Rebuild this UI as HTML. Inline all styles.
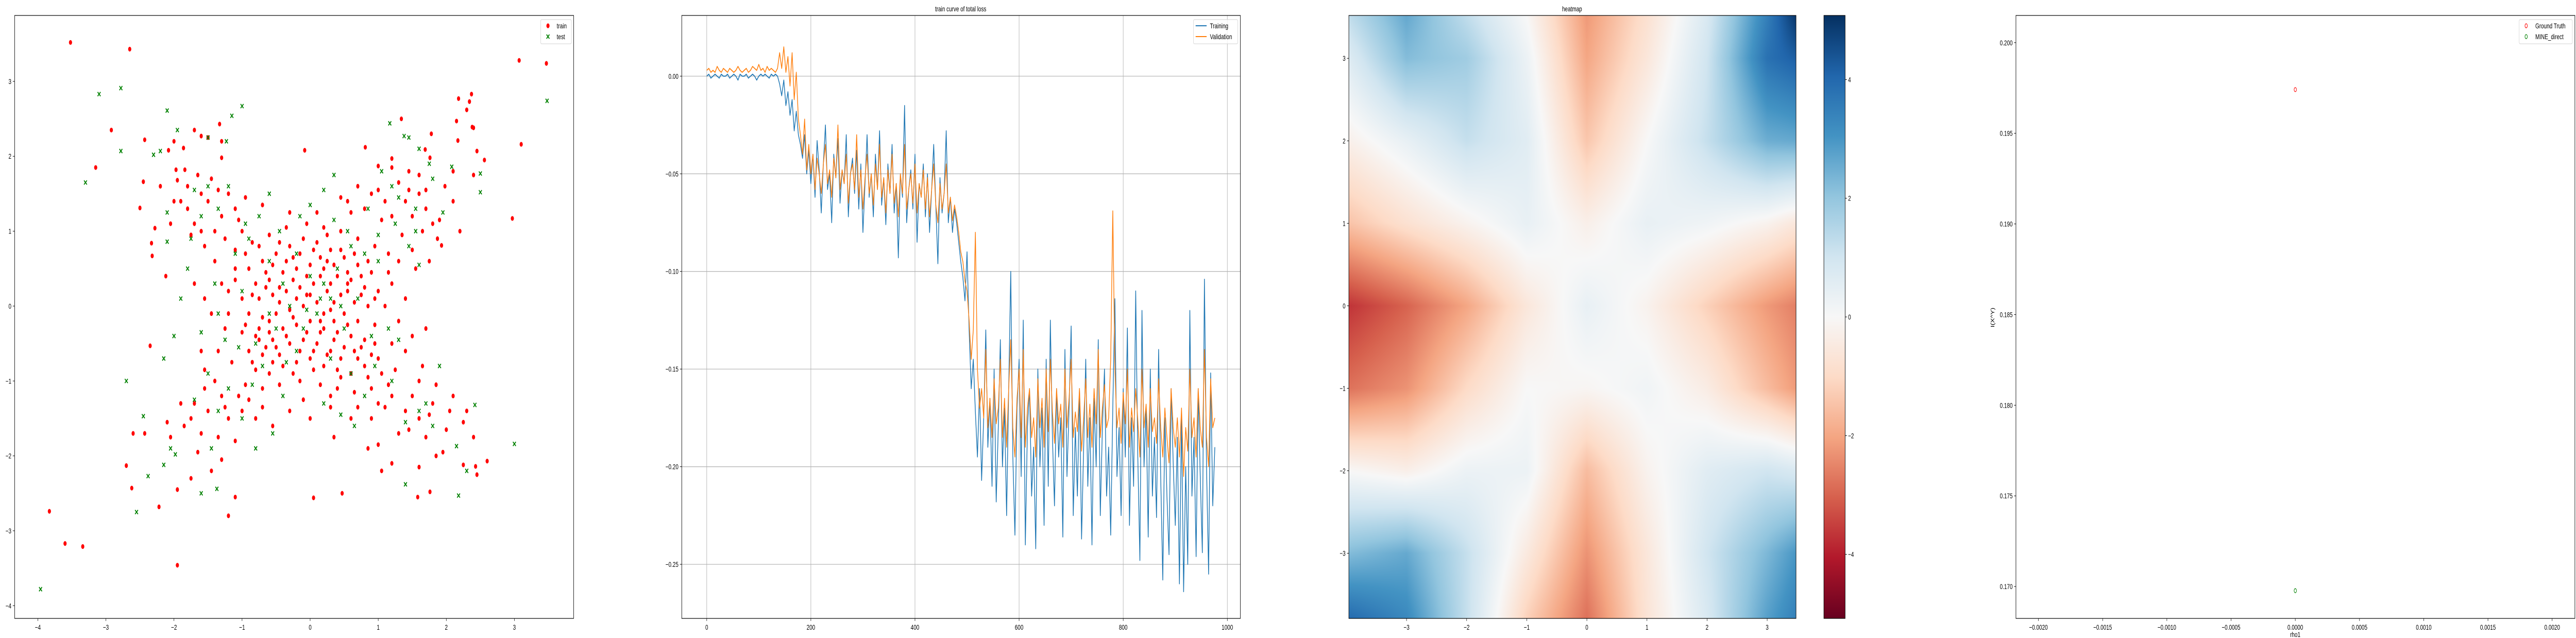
<!DOCTYPE html>
<html><head><meta charset="utf-8"><title>charts</title>
<style>
html,body{margin:0;padding:0;background:#fff;width:100%;height:100%;overflow:hidden;}
#wrap{position:relative;width:100vw;height:100vh;overflow:hidden;}
#fig{position:absolute;left:0;top:0;width:100%;height:100%;}
#heat{position:absolute;left:52.3620%;top:2.4233%;width:17.3591%;height:94.5073%;}
text{font-family:"Liberation Sans",sans-serif;font-size:14px;fill:#000;}
</style></head>
<body>
<div id="wrap">
<canvas id="heat" width="1220" height="1170"></canvas>
<svg id="fig" viewBox="0 0 7028 1238" preserveAspectRatio="none" xmlns="http://www.w3.org/2000/svg">
<defs>
<linearGradient id="rdbu" x1="0" y1="1" x2="0" y2="0">
<stop offset="0" stop-color="#67001f"/><stop offset="0.1" stop-color="#b2182b"/><stop offset="0.2" stop-color="#d6604d"/><stop offset="0.3" stop-color="#f4a582"/><stop offset="0.4" stop-color="#fddbc7"/><stop offset="0.5" stop-color="#f7f7f7"/><stop offset="0.6" stop-color="#d1e5f0"/><stop offset="0.7" stop-color="#92c5de"/><stop offset="0.8" stop-color="#4393c3"/><stop offset="0.9" stop-color="#2166ac"/><stop offset="1" stop-color="#053061"/>
</linearGradient>
</defs>
</svg>
</div>
<script>
// ---------- DATA ----------
const trainPts = [[-3.52,3.52],[-2.65,3.43],[3.07,3.28],[3.47,3.24],[-2.92,2.35],[-3.15,1.85],[3.1,2.16],[2.37,2.83],[2.18,2.77],[2.34,2.73],[2.3,2.62],[2.15,2.47],[2.38,2.39],[2.4,2.38],[2.17,2.21],[2.4,1.75],[2.45,2.07],[2.56,1.95],[2.97,1.17],[2.2,1.0],[1.93,0.81],[-3.83,-2.74],[-3.6,-3.17],[-3.34,-3.21],[-1.95,-3.46],[-2.22,-2.68],[-2.62,-2.43],[-2.7,-2.13],[-1.2,-2.8],[-1.1,-2.55],[0.05,-2.56],[0.47,-2.5],[1.58,-2.55],[1.76,-2.48],[2.6,-2.07],[2.45,-2.25],[2.43,-2.14],[2.25,-2.12],[-2.6,-1.7],[-2.43,-1.7],[-2.35,-0.53],[-2.5,1.31],[-2.43,2.22],[-2.45,1.66],[-1.33,2.43],[-1.7,2.35],[-2.08,2.08],[-2.0,2.2],[-2.28,1.04],[-2.33,0.84],[-2.32,0.67],[-2.12,0.4],[-2.05,1.1],[-1.6,2.27],[-1.5,2.25],[-1.3,2.2],[-1.3,1.98],[-1.97,1.82],[-1.95,1.68],[-1.84,1.82],[-1.86,2.11],[-0.08,2.08],[0.81,2.12],[1.34,2.5],[1.78,2.3],[1.2,1.97],[1.0,1.87],[1.98,1.6],[1.76,1.98],[1.69,2.09],[2.1,1.8],[1.87,0.9],
[-0.9,0.5],[-0.7,0.6],[-0.5,0.7],[-0.3,0.8],[-0.1,0.9],[0.1,0.85],[0.3,0.75],[0.5,0.65],[0.7,0.55],[0.9,0.45],
[-0.8,0.3],[-0.6,0.35],[-0.4,0.45],[-0.2,0.5],[0,0.55],[0.2,0.5],[0.4,0.4],[0.6,0.35],[0.8,0.25],[1.0,0.2],
[-1.0,0.1],[-0.75,0.1],[-0.55,0.15],[-0.35,0.2],[-0.15,0.25],[0.05,0.3],[0.25,0.2],[0.45,0.15],[0.65,0.05],[0.85,0.0],
[-0.9,-0.1],[-0.7,-0.15],[-0.5,-0.1],[-0.3,-0.05],[-0.1,0.0],[0.1,0.05],[0.3,-0.05],[0.5,-0.1],[0.7,-0.2],[0.95,-0.25],
[-1.0,-0.35],[-0.8,-0.4],[-0.6,-0.35],[-0.4,-0.3],[-0.2,-0.25],[0.0,-0.2],[0.2,-0.3],[0.4,-0.35],[0.6,-0.4],[0.8,-0.45],
[-0.9,-0.6],[-0.7,-0.65],[-0.5,-0.55],[-0.3,-0.5],[-0.1,-0.45],[0.1,-0.5],[0.3,-0.6],[0.5,-0.55],[0.7,-0.7],[0.9,-0.65],
[-0.8,-0.85],[-0.6,-0.9],[-0.4,-0.8],[-0.2,-0.75],[0.0,-0.7],[0.2,-0.8],[0.4,-0.85],[0.6,-0.9],[0.85,-0.95],[1.05,-0.9],
[-1.1,0.75],[-0.85,0.85],[-0.6,0.95],[-0.35,1.05],[-0.05,1.1],[0.2,1.05],[0.45,1.0],[0.7,0.9],[0.95,0.8],[1.15,0.7],
[-1.15,-0.75],[-0.95,-1.05],[-0.7,-1.1],[-0.45,-1.05],[-0.15,-1.0],[0.15,-1.05],[0.4,-1.1],[0.65,-1.15],[0.9,-1.1],[1.15,-1.05],
[-0.65,0.45],[-0.45,0.25],[-0.25,0.65],[0.15,0.65],[0.35,0.55],[0.55,0.45],[-0.05,0.4],[0.3,0.3],[-0.2,0.1],[0.0,0.15],[0.2,-0.1],[0.15,-0.35],[-0.35,-0.4],[-0.55,-0.75],[0.05,-0.6],[0.35,-0.2],[0.55,0.2],[-0.6,-0.2],[0.75,0.4],[-0.75,-0.45],[0.25,0.95],[-0.25,-0.9],[0.45,-0.7],[-0.45,0.85],
[-1.3,1.2],[-1.5,1.4],[-1.4,1.0],[-1.6,1.5],[-1.2,1.5],[-1.7,1.1],[-1.45,1.7],[-1.8,1.3],[-1.25,0.9],[-1.55,0.8],[-1.1,1.3],[-1.35,1.55],[-1.0,1.0],[-0.95,1.45],[-1.65,1.75],[-1.4,0.6],[-1.7,0.3],[-1.3,0.3],[-1.55,0.1],[-1.2,0.2],[-1.1,0.5],[-1.45,-0.1],[-1.25,-0.3],[-1.6,-0.6],[-1.9,1.4],[-2.0,1.4],[-1.75,0.95],
[1.2,1.2],[1.4,1.4],[1.6,1.5],[1.1,1.4],[1.3,1.65],[1.5,1.2],[1.7,1.3],[0.9,1.5],[1.2,1.85],[1.0,1.55],[1.45,1.55],[1.8,1.1],[1.65,1.0],[1.35,0.95],[0.8,1.3],[0.6,1.25],[1.5,0.75],[1.75,0.6],[1.3,0.6],[1.55,0.5],[1.2,0.3],[1.4,0.1],[1.3,-0.2],[1.1,0.0],[0.7,1.6],[0.45,1.45],[1.9,1.15],[1.7,1.55],
[-1.3,-1.2],[-1.5,-1.4],[-1.2,-1.5],[-1.6,-1.7],[-1.4,-1.0],[-1.7,-1.3],[-1.0,-1.4],[-1.35,-1.75],[-1.85,-1.6],[-1.55,-1.1],[-1.1,-1.8],[-1.9,-1.3],[-2.05,-1.75],[-1.65,-1.95],[-1.45,-2.2],[-1.75,-2.3],[-1.95,-2.45],[-1.3,-2.05],[-0.8,-1.5],[-0.55,-1.6],[-0.9,-1.25],[-2.1,-1.55],[-1.35,-0.6],[-1.55,-0.85],
[1.2,-1.2],[1.4,-1.4],[1.6,-1.5],[1.1,-1.35],[1.3,-1.7],[1.5,-1.2],[1.8,-1.3],[0.9,-1.5],[1.7,-1.75],[2.0,-1.65],[1.95,-1.95],[2.25,-1.55],[2.4,-1.75],[1.85,-2.0],[1.6,-2.15],[1.2,-2.1],[1.05,-2.2],[1.0,-1.85],[0.85,-1.9],[2.3,-1.4],[2.1,-1.2],[1.85,-1.05],[1.6,-1.0],[1.4,-0.6],[1.65,-0.8],[1.5,-0.4],[1.7,-0.3],[1.25,-0.85],[0.6,-1.5],[0.3,-1.35],[0.0,-1.5],[-0.3,-1.4],[0.35,-1.75],
[-0.95,0.7],[-0.75,0.8],[-0.55,0.55],[-0.35,0.6],[-0.15,0.7],[0.05,0.75],[0.25,0.6],[0.45,0.75],[0.65,0.7],[0.85,0.6],
[-0.85,0.15],[-0.65,0.25],[-0.45,0.05],[-0.25,0.35],[-0.05,0.15],[0.15,0.4],[0.35,0.05],[0.55,0.3],[0.75,0.15],[0.95,0.1],
[-0.95,-0.25],[-0.75,-0.3],[-0.55,-0.45],[-0.25,-0.15],[-0.05,-0.35],[0.15,-0.2],[0.35,-0.45],[0.55,-0.25],[0.75,-0.55],[0.95,-0.5],
[-0.85,-0.75],[-0.65,-0.55],[-0.45,-0.65],[-0.15,-0.6],[0.05,-0.85],[0.25,-0.65],[0.45,-0.95],[0.65,-0.6],[0.8,-0.8],[1.0,-0.7],
[-1.2,-0.1],[-1.1,0.35],[1.15,0.45],[1.2,-0.5],[-0.3,1.25],[0.1,1.25],[0.3,-1.2],[-0.1,-1.25],[-1.05,1.15],[1.05,1.15],[-1.05,-1.2],[1.0,-1.3],
[-1.6,1.0],[-1.8,1.6],[1.45,1.8],[1.6,1.75],[-1.75,-1.5],[-1.25,-1.35],[1.45,-1.65],[1.75,-1.45],[2.05,-1.4],[-2.2,1.6],[2.1,1.4],[0.55,1.4],[-0.7,1.35],[-0.7,-1.35],[0.7,-1.35]];
const testPts = [[-3.3,1.65],[-3.1,2.83],[-2.78,2.91],[-2.78,2.07],[-2.1,2.61],[-1.15,2.54],[-1.0,2.67],[-1.95,2.35],[-1.5,2.25],[-2.3,2.02],[-2.2,2.07],[-1.23,2.2],[1.17,2.44],[1.45,2.25],[1.38,2.27],[1.6,2.1],[2.08,1.86],[2.5,1.77],[2.5,1.52],[3.48,2.74],[3.0,-1.84],[2.42,-1.32],[2.18,-2.53],[2.3,-2.2],[2.15,-1.87],[1.4,-2.38],[-1.6,-2.5],[-1.37,-2.44],[-2.55,-2.75],[-2.38,-2.27],[-2.15,-2.12],[-1.98,-1.98],[-2.45,-1.47],[-2.7,-1.0],[-3.96,-3.78],[-0.55,-1.7],[-0.8,-1.9],[-1.9,0.1],[-2.1,0.86],[-1.8,0.5],[-2.0,-0.4],[-2.15,-0.7],
[-0.6,0.6],[-0.4,0.3],[-0.2,0.7],[0.0,0.4],[0.2,0.3],[0.4,0.5],[0.6,0.8],[-0.8,-0.5],[-0.5,-0.3],[-0.3,0.0],[-0.1,-0.3],[0.1,-0.1],[0.3,0.1],[0.5,-0.3],[0.7,0.1],[0.9,-0.4],[-0.9,0.9],[-0.7,-0.8],[0.3,-0.7],[0.6,-0.9],[-0.2,-0.6],[0.8,0.7],[1.0,0.6],[-1.0,0.2],[-0.6,-0.1],[0.15,0.1],[-0.05,-0.05],[0.45,0.0],[-0.35,-0.75],[0.55,1.0],[-0.45,1.0],[0.95,-0.8],[-1.05,-0.55],[-1.2,1.6],[-1.5,1.6],[-1.7,1.55],[-1.35,1.3],[-1.6,1.2],[-0.95,1.1],[-1.1,0.7],[-1.4,0.3],[1.3,1.45],[1.55,1.3],[1.25,1.1],[1.75,1.9],[1.8,1.7],[1.0,0.95],[1.45,0.8],[1.6,0.55],[1.15,-0.3],[1.3,-0.45],[1.6,-1.4],[1.4,-1.55],[1.2,-1.0],[1.8,-1.6],[1.7,-1.3],[0.8,-1.2],[-1.35,-1.4],[-1.5,-0.9],[-1.2,-1.1],[-1.7,-1.25],[-1.45,-1.9],[-1.0,-1.5],[-0.85,-1.05],[-1.25,-0.45],[0.35,1.15],[-0.15,1.2],[0.85,1.3],[-0.75,1.2],[0.2,-1.3],[-0.4,-1.2],[0.65,-1.6],[0.45,-1.45],[1.55,1.0],[1.9,-0.8],[-1.75,0.9],[-1.6,-0.35],[-1.35,-0.1],[-2.1,1.25],[-2.05,-1.9],[1.95,1.25],[-0.6,1.5],[0.0,1.35],[0.2,1.55],[0.35,1.75],[1.05,1.8],[1.2,1.6]];

const EPOCH_STEP = 4;
const trainLoss = [0.000,0.001,-0.001,0.000,0.001,0.000,-0.001,0.001,0.000,0.000,0.001,-0.001,0.000,0.001,0.000,-0.002,0.001,0.000,0.000,0.001,-0.001,0.000,0.001,0.000,-0.002,0.000,0.001,0.000,0.001,0.000,-0.001,0.001,0.000,0.001,0.000,
-0.004,-0.010,-0.002,-0.015,-0.008,-0.020,-0.012,-0.028,-0.018,-0.030,
-0.035,-0.042,-0.030,-0.050,-0.038,-0.055,-0.040,-0.062,-0.033,-0.048,-0.070,-0.045,-0.025,-0.058,-0.050,-0.075,-0.040,-0.052,-0.032,-0.065,-0.048,-0.055,-0.030,-0.072,-0.050,-0.042,-0.060,-0.038,-0.068,-0.045,-0.080,-0.055,-0.030,-0.062,-0.050,-0.072,-0.040,-0.058,-0.028,-0.066,-0.052,-0.076,-0.045,-0.060,-0.035,-0.070,-0.055,-0.093,-0.050,-0.062,-0.015,-0.075,-0.058,-0.048,-0.068,-0.040,-0.085,-0.055,-0.062,-0.045,-0.072,-0.050,-0.080,-0.058,-0.035,-0.066,-0.096,-0.052,-0.070,-0.060,-0.028,-0.075,-0.062,-0.080,-0.068,
-0.075,-0.085,-0.095,-0.103,-0.115,-0.090,-0.130,-0.160,-0.145,-0.172,
-0.195,-0.160,-0.207,-0.175,-0.130,-0.190,-0.165,-0.210,-0.150,-0.218,-0.180,-0.135,-0.200,-0.170,-0.225,-0.160,-0.100,-0.195,-0.235,-0.170,-0.145,-0.205,-0.125,-0.240,-0.180,-0.160,-0.215,-0.190,-0.242,-0.150,-0.200,-0.170,-0.230,-0.145,-0.210,-0.125,-0.185,-0.220,-0.160,-0.195,-0.175,-0.236,-0.140,-0.205,-0.170,-0.128,-0.225,-0.180,-0.215,-0.160,-0.237,-0.190,-0.145,-0.210,-0.175,-0.240,-0.165,-0.200,-0.135,-0.225,-0.180,-0.150,-0.215,-0.190,-0.235,-0.170,-0.114,-0.205,-0.180,-0.225,-0.160,-0.195,-0.129,-0.230,-0.175,-0.210,-0.110,-0.195,-0.248,-0.120,-0.200,-0.170,-0.236,-0.150,-0.215,-0.185,-0.226,-0.140,-0.205,-0.258,-0.175,-0.215,-0.245,-0.160,-0.198,-0.230,-0.185,-0.260,-0.175,-0.264,-0.200,-0.250,-0.120,-0.215,-0.185,-0.246,-0.160,-0.205,-0.244,-0.104,-0.200,-0.255,-0.152,-0.220,-0.190];
const valLoss = [0.003,0.004,0.002,0.003,0.002,0.005,0.003,0.002,0.004,0.003,0.002,0.004,0.003,0.002,0.003,0.005,0.003,0.002,0.003,0.004,0.002,0.003,0.005,0.004,0.003,0.006,0.003,0.004,0.002,0.005,0.003,0.004,0.003,0.002,0.004,
0.012,0.004,0.015,0.002,0.010,-0.005,0.012,-0.012,0.002,-0.022,
-0.030,-0.040,-0.022,-0.048,-0.035,-0.050,-0.040,-0.058,-0.042,-0.050,-0.060,-0.045,-0.035,-0.055,-0.048,-0.062,-0.042,-0.052,-0.025,-0.058,-0.048,-0.055,-0.040,-0.065,-0.050,-0.045,-0.058,-0.030,-0.062,-0.048,-0.068,-0.052,-0.040,-0.060,-0.050,-0.066,-0.045,-0.058,-0.035,-0.062,-0.052,-0.070,-0.048,-0.060,-0.040,-0.065,-0.055,-0.072,-0.050,-0.060,-0.035,-0.068,-0.058,-0.050,-0.065,-0.045,-0.070,-0.055,-0.062,-0.048,-0.068,-0.052,-0.072,-0.058,-0.045,-0.066,-0.075,-0.055,-0.068,-0.060,-0.045,-0.070,-0.062,-0.074,-0.066,
-0.072,-0.080,-0.090,-0.095,-0.105,-0.110,-0.125,-0.145,-0.130,-0.080,
-0.150,-0.170,-0.160,-0.175,-0.140,-0.180,-0.165,-0.185,-0.155,-0.178,-0.170,-0.145,-0.185,-0.165,-0.190,-0.160,-0.135,-0.180,-0.195,-0.165,-0.150,-0.185,-0.140,-0.190,-0.170,-0.160,-0.185,-0.175,-0.195,-0.155,-0.180,-0.165,-0.190,-0.150,-0.182,-0.145,-0.172,-0.188,-0.160,-0.178,-0.168,-0.190,-0.150,-0.180,-0.165,-0.145,-0.185,-0.172,-0.182,-0.160,-0.192,-0.175,-0.155,-0.185,-0.168,-0.190,-0.160,-0.178,-0.140,-0.185,-0.170,-0.158,-0.180,-0.175,-0.145,-0.069,-0.150,-0.180,-0.170,-0.188,-0.162,-0.178,-0.150,-0.190,-0.170,-0.182,-0.160,-0.176,-0.195,-0.150,-0.180,-0.168,-0.190,-0.160,-0.182,-0.175,-0.188,-0.155,-0.180,-0.195,-0.170,-0.185,-0.198,-0.160,-0.180,-0.190,-0.175,-0.195,-0.170,-0.205,-0.180,-0.192,-0.150,-0.185,-0.175,-0.195,-0.160,-0.180,-0.190,-0.140,-0.185,-0.200,-0.155,-0.180,-0.175];

const heatXs = [-4,-3,-2,-1,0,1,2,3,3.5];
const heatYs = [3.5,3,2,1,0,-1,-2,-3,-3.8];
const heatVals = [
 [1.2,2.6,1.3,0.0,-2.2,-0.8,0.8,3.5,5.0],
 [0.6,2.2,1.8,0.3,-2.0,-0.6,1.0,3.8,4.2],
 [-0.3,0.4,1.2,0.6,-1.4,0.0,1.2,2.5,2.6],
 [-1.5,-0.8,-0.2,0.4,-0.3,0.4,0.2,-0.2,-0.6],
 [-3.7,-3.0,-2.0,-0.6,0.4,-0.2,-1.2,-2.2,-2.6],
 [-2.8,-2.3,-1.0,0.0,-0.1,0.2,-0.4,-1.6,-2.2],
 [0.0,-0.3,0.3,0.3,-1.6,-0.2,0.6,1.0,0.8],
 [2.2,2.6,1.2,-0.5,-2.3,-0.6,1.0,2.3,3.0],
 [4.0,3.3,1.2,-1.2,-2.8,-0.7,0.8,2.8,3.5]];

const rhoVals = [0.0];
const groundTruth = [0.19741];
const mineDirect = [0.16977];

const p1XTicks=[-4,-3,-2,-1,0,1,2,3], p1YTicks=[-4,-3,-2,-1,0,1,2,3];
const p2XTicks=[0,200,400,600,800,1000], p2YTicks=[0,-0.05,-0.10,-0.15,-0.20,-0.25];
const p3XTicks=[-3,-2,-1,0,1,2,3], p3YTicks=[-3,-2,-1,0,1,2,3], cbTicks=[-4,-2,0,2,4];
const p4XTicks=[-0.002,-0.0015,-0.001,-0.0005,0,0.0005,0.001,0.0015,0.002];
const p4YTicks=[0.170,0.175,0.180,0.185,0.190,0.195,0.200];

// ---------- HELPERS ----------
const NS='http://www.w3.org/2000/svg';
const svg=document.getElementById('fig');
function mk(tag,attrs,parent){const e=document.createElementNS(NS,tag);for(const k in attrs)e.setAttribute(k,attrs[k]);(parent||svg).appendChild(e);return e;}
function lin(d0,d1,r0,r1){return v=>r0+(v-d0)*(r1-r0)/(d1-d0);}
function fmtMinus(s){return s.replace('-','\u2212');}
function axes(name,L,R,T,B,sx,sy,xt,yt,xf,yf,grid){
  const g=mk('g',{});
  
  
  if(grid){
    xt.forEach(v=>{const l=mk('line',{x1:sx(v),x2:sx(v),y1:T,y2:B,stroke:'#b0b0b0','stroke-width':1.2},g);
      
      });
    yt.forEach(v=>{const l=mk('line',{x1:L,x2:R,y1:sy(v),y2:sy(v),stroke:'#b0b0b0','stroke-width':1.2},g);
      
      });
  }
  xt.forEach(v=>{const x=sx(v);
    const tk=mk('line',{x1:x,x2:x,y1:B,y2:B+5,stroke:'#000','stroke-width':1},g);
    
    
    const t=mk('text',{x:x,y:B+22,'text-anchor':'middle'},g);t.textContent=fmtMinus(xf(v));
    
    });
  yt.forEach(v=>{const y=sy(v);
    const tk=mk('line',{x1:L-5,x2:L,y1:y,y2:y,stroke:'#000','stroke-width':1},g);
    
    
    const t=mk('text',{x:L-9,y:y+5,'text-anchor':'end'},g);t.textContent=fmtMinus(yf(v));
    
    });
  return g;
}
function frame(L,R,T,B){const r=mk('rect',{x:L,y:T,width:R-L,height:B-T,fill:'none',stroke:'#000','stroke-width':1.2});
  
  }
function legendBox(x,y,w,h){const r=mk('rect',{x:x,y:y,width:w,height:h,rx:3,fill:'#fff','fill-opacity':0.8,stroke:'#d0d0d0'});
  
  }
function label(x,y,s,anchor,name,extra){const t=mk('text',Object.assign({x:x,y:y,'text-anchor':anchor||'start'},extra||{}));t.textContent=s;
  
  return t;}
function xmark(g,x,y,c,name){const p=mk('path',{d:`M${x-4},${y-4}L${x+4},${y+4}M${x-4},${y+4}L${x+4},${y-4}`,stroke:c,'stroke-width':2.2},g);
  
  }

// ---------- PANEL 1: scatter ----------
{
 const L=40,R=1565,T=30,B=1200;
 const sx=lin(-4.34,3.87,L,R), sy=lin(-4.17,3.88,B,T);
 axes('scatter-axes',L,R,T,B,sx,sy,p1XTicks,p1YTicks,v=>String(v),v=>String(v),false);
 const g=mk('g',{});
 
 
 trainPts.forEach(p=>{const c=mk('ellipse',{cx:sx(p[0]),cy:sy(p[1]),rx:4.3,ry:4.6,fill:'#ff0000'},g);
   
   });
 const g2=mk('g',{});
 
 
 testPts.forEach(p=>xmark(g2,sx(p[0]),sy(p[1]),'#008000','test-point'));
 frame(L,R,T,B);
 legendBox(1475,38,84,47);
 const lm=mk('ellipse',{cx:1495,cy:50,rx:4.3,ry:4.6,fill:'#ff0000'});
 
 
 label(1519,55,'train','start','legend-train-label');
 xmark(svg,1495,71,'#008000','legend-test-marker');
 label(1519,76,'test','start','legend-test-label');
}

// ---------- PANEL 2: loss curves ----------
{
 const L=1860,R=3384,T=30,B=1200;
 const sx=lin(-48,1025,L,R), sy=lin(-0.2777,0.0311,B,T);
 axes('loss-axes',L,R,T,B,sx,sy,p2XTicks,p2YTicks,v=>String(v),v=>v.toFixed(2),true);
 const mkLine=(vals,color,name)=>{const d=vals.map((v,i)=>(i?'L':'M')+sx(i*EPOCH_STEP).toFixed(1)+','+sy(v).toFixed(1)).join('');
   const p=mk('path',{d:d,fill:'none',stroke:color,'stroke-width':2,'stroke-linejoin':'round'});
   
   };
 mkLine(trainLoss,'#1f77b4','training-line');
 mkLine(valLoss,'#ff7f0e','validation-line');
 frame(L,R,T,B);
 label(2621,22,'train curve of total loss','middle','loss-chart-title');
 legendBox(3256,38,121,47);
 const l1=mk('line',{x1:3262,x2:3292,y1:50,y2:50,stroke:'#1f77b4','stroke-width':2});
 
 
 label(3301,55,'Training','start','legend-training-label');
 const l2=mk('line',{x1:3262,x2:3292,y1:71,y2:71,stroke:'#ff7f0e','stroke-width':2});
 
 
 label(3301,76,'Validation','start','legend-validation-label');
}

// ---------- PANEL 3: heatmap ----------
const RDBU=[[103,0,31],[178,24,43],[214,96,77],[244,165,130],[253,219,199],[247,247,247],[209,229,240],[146,197,222],[67,147,195],[33,102,172],[5,48,97]];
function rdbu(t){t=Math.max(0,Math.min(1,t))*10;const i=Math.min(9,Math.floor(t)),f=t-i,a=RDBU[i],b=RDBU[i+1];return [a[0]+(b[0]-a[0])*f,a[1]+(b[1]-a[1])*f,a[2]+(b[2]-a[2])*f];}
function seg(arr,v,desc){for(let i=0;i<arr.length-1;i++){const a=arr[i],b=arr[i+1];if(desc?(v<=a&&v>=b):(v>=a&&v<=b))return [i,(v-a)/(b-a)];}
  if(desc?v>arr[0]:v<arr[0])return [0,0];return [arr.length-2,1];}
{
 const L=3680,R=4900,T=30,B=1200,VMAX=5.08;
 const sx=lin(-3.96,3.48,L,R), sy=lin(-3.79,3.52,B,T);
 const cv=document.getElementById('heat'),ctx=cv.getContext('2d');
 const W=cv.width,H=cv.height,img=ctx.createImageData(W,H);
 const ix=lin(L,R,-3.96,3.48), iy=lin(B,T,-3.79,3.52);
 for(let py=0;py<H;py++){const yv=iy(T+py+0.5);const [j,fy]=seg(heatYs,yv,true);
  for(let px=0;px<W;px++){const xv=ix(L+px+0.5);const [i,fx]=seg(heatXs,xv,false);
   const v=(heatVals[j][i]*(1-fx)+heatVals[j][i+1]*fx)*(1-fy)+(heatVals[j+1][i]*(1-fx)+heatVals[j+1][i+1]*fx)*fy;
   const c=rdbu((v+VMAX)/(2*VMAX));const k=(py*W+px)*4;img.data[k]=c[0];img.data[k+1]=c[1];img.data[k+2]=c[2];img.data[k+3]=255;}}
 ctx.putImageData(img,0,0);
 axes('heatmap-axes',L,R,T,B,sx,sy,p3XTicks,p3YTicks,v=>String(v),v=>String(v),false);
 frame(L,R,T,B);
 label(4289,22,'heatmap','middle','heatmap-title');
 const CL=4976,CR=5034;const cy=lin(-VMAX,VMAX,B,T);
 const cb=mk('rect',{x:CL,y:T,width:CR-CL,height:B-T,fill:'url(#rdbu)',stroke:'#000','stroke-width':1.2});
 
 
 cbTicks.forEach(v=>{const y=cy(v);
  const tk=mk('line',{x1:CR,x2:CR+5,y1:y,y2:y,stroke:'#000'});
  
  
  label(CR+8,y+5,fmtMinus(String(v)),'start','colorbar-tick-label');});
}

// ---------- PANEL 4: MI points ----------
{
 const L=5500,R=7025,T=30,B=1200;
 const sx=lin(-0.002175,0.002177,L,R), sy=lin(0.16824,0.2015,B,T);
 axes('mi-axes',L,R,T,B,sx,sy,p4XTicks,p4YTicks,v=>v.toFixed(4),v=>v.toFixed(3),false);
 rhoVals.forEach((r,i)=>{
  const a=mk('ellipse',{cx:sx(r),cy:sy(groundTruth[i]),rx:3.2,ry:4,fill:'none',stroke:'#ff0000','stroke-width':1.3});
  
  
  const b=mk('ellipse',{cx:sx(r),cy:sy(mineDirect[i]),rx:3.2,ry:4,fill:'none',stroke:'#008000','stroke-width':1.3});
  
  
 });
 frame(L,R,T,B);
 label(6262,1236,'rho1','middle','x-axis-title');
 label(5441,616,'I(X^Y)','middle','y-axis-title',{transform:'rotate(-90 5441 616)'});
 legendBox(6873,38,145,47);
 const m1=mk('ellipse',{cx:6892,cy:50,rx:3.2,ry:4,fill:'none',stroke:'#ff0000','stroke-width':1.3});
 
 
 label(6917,55,'Ground Truth','start','legend-ground-truth-label');
 const m2=mk('ellipse',{cx:6892,cy:71,rx:3.2,ry:4,fill:'none',stroke:'#008000','stroke-width':1.3});
 
 
 label(6917,76,'MINE_direct','start','legend-mine-direct-label');
}
</script>
</body></html>
